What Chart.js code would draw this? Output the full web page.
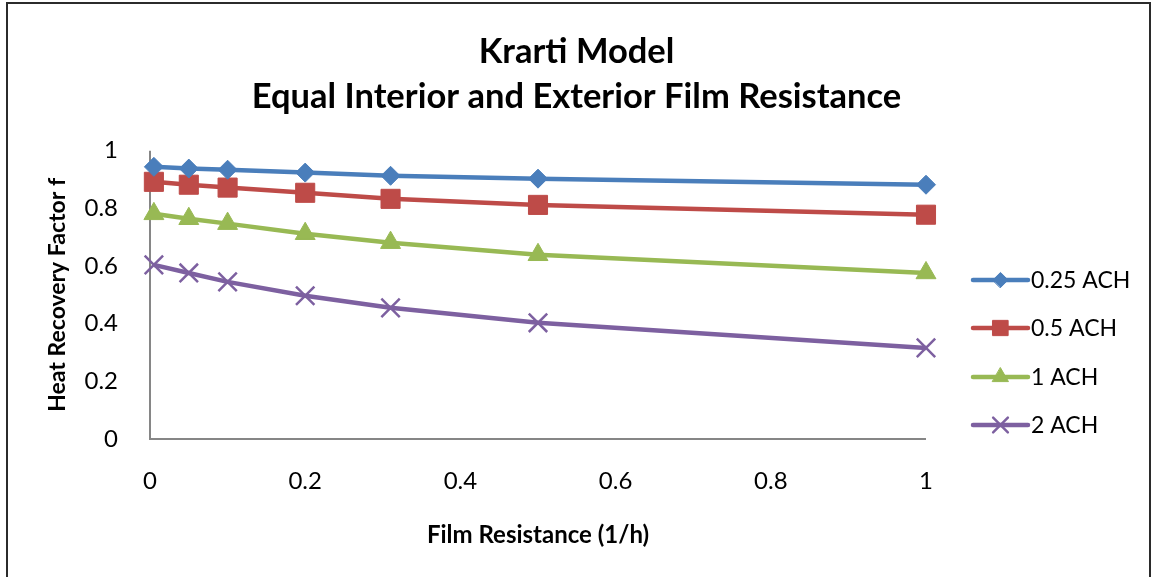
<!DOCTYPE html>
<html>
<head>
<meta charset="utf-8">
<script src="https://cdn.jsdelivr.net/npm/chart.js@4"></script>
<style>
  html, body { margin: 0; padding: 0; background: #fff; }
  #wrap { position: relative; width: 1153px; height: 577px; overflow: hidden; }
  #frame { position: absolute; left: 6px; top: 2px; width: 1145px; height: 620px;
           border: 2px solid #2b2b2b; box-sizing: border-box; pointer-events: none; }
  canvas { position: absolute; left: 0; top: 0; }
</style>
</head>
<body>
<div id="wrap">
  <canvas id="grafico" width="1153" height="577"></canvas>
  <div id="frame"></div>
</div>
<script>
// film resistance (1/h) on the x axis
const resistencia = [0.005, 0.05, 0.1, 0.2, 0.31, 0.5, 1];

// heat recovery factor f for each air change rate
const ach025 = [0.944, 0.938, 0.934, 0.924, 0.913, 0.903, 0.882];
const ach05  = [0.892, 0.882, 0.872, 0.854, 0.833, 0.812, 0.778];
const ach1   = [0.781, 0.764, 0.747, 0.712, 0.681, 0.639, 0.576];
const ach2   = [0.604, 0.576, 0.545, 0.497, 0.455, 0.403, 0.316];

const series = [
  { nome: '0.25 ACH', valores: ach025, cor: '#4A7EBB', ponto: 'rectRot', raio: 9.5 },
  { nome: '0.5 ACH',  valores: ach05,  cor: '#BE4B48', ponto: 'rect',    raio: 13.5 },
  { nome: '1 ACH',    valores: ach1,   cor: '#98B954', ponto: 'triangle', raio: 11.5 },
  { nome: '2 ACH',    valores: ach2,   cor: '#7D60A0', ponto: 'crossRot', raio: 13 }
];

const fonte = 'Lato, "Open Sans", sans-serif';
const rotulo = v => String(+v.toFixed(1));

// axis lines only along the plot area (no grid)
const eixos = {
  id: 'eixos',
  beforeDatasetsDraw(chart) {
    const { left, right, top, bottom } = chart.chartArea;
    const c = chart.ctx;
    c.save();
    c.strokeStyle = '#868686';
    c.lineWidth = 2;
    c.beginPath();
    c.moveTo(left, top);
    c.lineTo(left, bottom);
    c.lineTo(right, bottom);
    c.stroke();
    c.restore();
  }
};

// legend drawn by hand: a line with the marker on it, like Excel does
const legendaExcel = {
  id: 'legendaExcel',
  afterDraw(chart) {
    const c = chart.ctx;
    const x0 = 973, x1 = 1028;
    const ys = [280, 328, 377, 425];
    c.save();
    series.forEach((s, i) => {
      const y = ys[i];
      c.strokeStyle = s.cor;
      c.lineWidth = 4.5;
      c.lineCap = 'round';
      c.beginPath();
      c.moveTo(x0, y);
      c.lineTo(x1, y);
      c.stroke();
      c.fillStyle = s.cor;
      c.lineWidth = s.ponto === 'crossRot' ? 2.5 : 1;
      Chart.helpers.drawPoint(c, { pointStyle: s.ponto, radius: s.raio * 0.8, rotation: 0, borderWidth: c.lineWidth }, (x0 + x1) / 2, y);
      c.fillStyle = '#000';
      c.font = '23px ' + fonte;
      c.textBaseline = 'middle';
      c.textAlign = 'left';
      c.fillText(s.nome, x1 + 3, y + 1);
    });
    c.restore();
  }
};

const ctx = document.getElementById('grafico').getContext('2d');
const grafico = new Chart(ctx, {
  type: 'line',
  data: {
    datasets: series.map(s => ({
      label: s.nome,
      data: resistencia.map((x, i) => ({ x: x, y: s.valores[i] })),
      borderColor: s.cor,
      backgroundColor: s.cor,
      borderWidth: 4.5,
      pointStyle: s.ponto,
      pointRadius: s.raio,
      pointBorderWidth: s.ponto === 'crossRot' ? 2.5 : 1,
      pointBorderColor: s.cor,
      pointBackgroundColor: s.cor,
      tension: 0,
      clip: false
    }))
  },
  options: {
    responsive: false,
    animation: false,
    layout: { padding: 0 },
    plugins: {
      legend: { display: false },
      tooltip: { enabled: false },
      title: {
        display: true,
        text: ['Krarti Model', 'Equal Interior and Exterior Film Resistance'],
        color: '#000',
        font: { family: fonte, size: 34.5, weight: 'bold', lineHeight: 1.3 },
        padding: { top: 29.5, bottom: 31.5 }
      }
    },
    scales: {
      x: {
        type: 'linear',
        min: 0,
        max: 1,
        grid: { display: false },
        border: { display: false },
        ticks: { stepSize: 0.2, color: '#000', padding: 20, font: { family: fonte, size: 24 }, callback: rotulo },
        title: {
          display: true,
          text: 'Film Resistance (1/h)',
          color: '#000',
          font: { family: fonte, size: 24, weight: 'bold' },
          padding: { top: 0, bottom: 27.5 }
        },
        afterFit(scale) { scale.height = 138; }
      },
      y: {
        min: 0,
        max: 1,
        grid: { display: false },
        border: { display: false },
        ticks: { stepSize: 0.2, color: '#000', padding: 24, font: { family: fonte, size: 24 }, callback: rotulo },
        title: {
          display: true,
          text: 'Heat Recovery Factor f',
          color: '#000',
          font: { family: fonte, size: 23, weight: 'bold' },
          padding: { top: 44, bottom: 0 }
        },
        afterFit(scale) { scale.width = 150; }
      },
      // empty box on the right that keeps room for the legend
      espaco: {
        position: 'right',
        grid: { display: false },
        border: { display: false },
        ticks: { display: false },
        afterFit(scale) { scale.width = 227; }
      }
    }
  },
  plugins: [eixos, legendaExcel]
});
</script>
</body>
</html>
